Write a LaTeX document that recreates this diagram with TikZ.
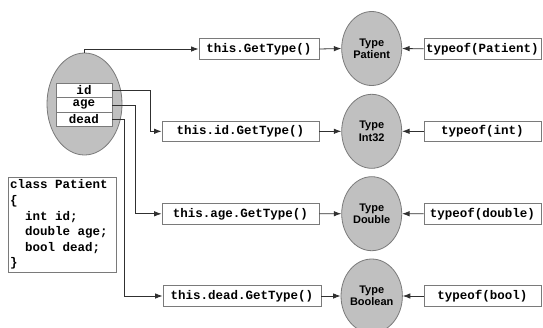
\documentclass[tikz,border=0pt]{standalone}
\usepackage{fontspec}
\setmonofont{Liberation Mono}
\setsansfont{Liberation Sans}
\usetikzlibrary{arrows.meta,shapes.geometric,positioning}
\definecolor{shade}{HTML}{C0C0C0}
\definecolor{rim}{HTML}{7A7A7A}
\definecolor{wire}{HTML}{303030}
% one monospaced blank
\newcommand\msp{\hspace*{0.6em}}
\tikzset{
  code/.style={font=\ttfamily\bfseries\fontsize{12.5}{14}\selectfont},
  callbox/.style={code, draw=rim, line width=0.8pt, fill=white, inner sep=0pt, minimum height=20.5pt},
  typeball/.style={ellipse, draw=rim, fill=shade, line width=0.8pt, minimum width=60pt, minimum height=74pt, inner sep=0pt,
    align=center, font=\sffamily\bfseries\fontsize{11}{12.3}\selectfont},
  fieldrow/.style={code, draw=rim, fill=white, line width=0.8pt, minimum width=56pt, minimum height=14.6pt, inner sep=0pt},
  link/.style={draw=wire, line width=0.8pt, -{Latex[length=7.5pt,width=5.5pt]}},
}
\begin{document}
\begin{tikzpicture}[x=1pt,y=-1pt]
\useasboundingbox (0,0) rectangle (543,327);
\clip (0,0) rectangle (543,327);
\fill[white] (0,0) rectangle (543,327);

% the object with its fields
\node[ellipse, draw=rim, fill=shade, line width=0.8pt, minimum width=75pt, minimum height=102pt, inner sep=0pt] (obj) at (84.5,104) {};
\node[fieldrow] (fid) at (84,90.3) {id};
\node[fieldrow] (fage) at (84,104.9) {age};
\node[fieldrow] (fdead) at (84,119.5) {dead};

% class declaration
\node[draw=rim, line width=0.8pt, fill=white, anchor=north west, minimum width=108pt, minimum height=95pt,
      inner sep=1.5pt, text width=104pt, align=left,
      font=\ttfamily\bfseries\fontsize{12.5}{15.6}\selectfont] (decl) at (7.7,176.7)
  {class\msp Patient\\ \{\\ \msp\msp int\msp id;\\ \msp\msp double\msp age;\\ \msp\msp bool\msp dead;\\ \}};

% GetType() calls
\node[callbox, minimum width=120pt] (g1) at (259,49) {this.GetType()};
\node[callbox, minimum width=157pt] (g2) at (240.5,131.3) {this.id.GetType()};
\node[callbox, minimum width=157pt] (g3) at (240.5,213.8) {this.age.GetType()};
\node[callbox, minimum width=158pt] (g4) at (242,296) {this.dead.GetType()};

% Type objects
\node[typeball] (t1) at (371.7,48.5) {Type\\Patient};
\node[typeball] (t2) at (371.7,131.3) {Type\\Int32};
\node[typeball] (t3) at (371.7,213.7) {Type\\Double};
\node[typeball] (t4) at (371.7,296) {Type\\Boolean};

% typeof() expressions
\node[callbox, minimum width=117pt] (k1) at (482.5,48.8) {typeof(Patient)};
\node[callbox, minimum width=117pt] (k2) at (482.5,131.3) {typeof(int)};
\node[callbox, minimum width=117pt] (k3) at (482.5,213.8) {typeof(double)};
\node[callbox, minimum width=117pt] (k4) at (482.5,296) {typeof(bool)};

% connectors from the object and its fields
\draw[link] (obj.north) |- (g1.west);
\draw[link] (fid.east) -- ++(38,0) |- (g2.west);
\draw[link] (fage.east) -- ++(23,0) |- (g3.west);
\draw[link] (fdead.east) -- ++(12,0) |- (g4.west);

% calls and typeof() lead to the Type objects
\foreach \i in {1,2,3,4} {
  \draw[link] (g\i.east) -- (t\i.west);
  \draw[link] (k\i.west) -- (t\i.east);
}
\end{tikzpicture}
\end{document}
